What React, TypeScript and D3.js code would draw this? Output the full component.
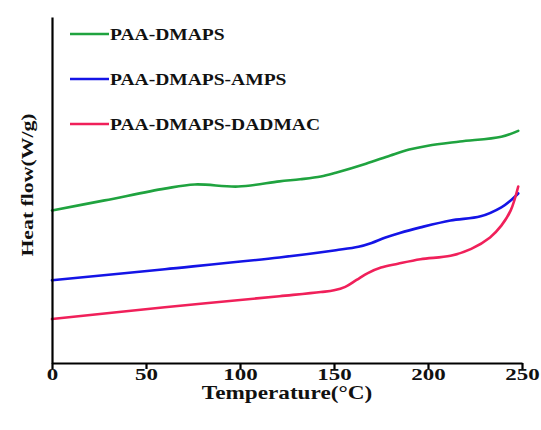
import React, { useEffect, useRef } from "react";
import * as d3 from "d3";

// series names and colours, in legend order
const seriesNames = ["PAA-DMAPS", "PAA-DMAPS-AMPS", "PAA-DMAPS-DADMAC"];
const seriesColors = ["#1fa33f", "#1414e6", "#f0205a"];

// temperatures (°C) and heat flow (arbitrary units)
const tempGreen = [0, 28, 60, 76, 99, 121, 132, 143, 151, 167, 180, 190, 200, 217, 239, 248];
const flowGreen = [4.41, 4.7, 5.04, 5.16, 5.1, 5.25, 5.31, 5.39, 5.5, 5.76, 6.0, 6.17, 6.28, 6.4, 6.54, 6.71];

const tempBlue = [0, 60, 121, 151, 163, 170, 177, 185, 196, 212, 228, 239, 244, 248];
const flowBlue = [2.39, 2.71, 3.05, 3.26, 3.36, 3.47, 3.62, 3.76, 3.92, 4.12, 4.24, 4.5, 4.7, 4.9];

const tempRed = [0, 60, 121, 143, 150, 156, 162, 168, 175, 184, 196, 212, 223, 233, 239, 244, 248];
const flowRed = [1.27, 1.61, 1.93, 2.05, 2.1, 2.2, 2.4, 2.6, 2.76, 2.87, 3.0, 3.1, 3.3, 3.63, 3.97, 4.41, 5.1];

const xTicks = [0, 50, 100, 150, 200, 250];

const W = 541;
const H = 430;
const FONT = "Liberation Serif";

export default function App() {
  const ref = useRef<SVGSVGElement>(null);

  useEffect(() => {
    const svg = d3.select(ref.current);
    svg.selectAll("*").remove();

    const x = d3.scaleLinear().domain([0, 250]).range([52, 522]);
    const y = d3.scaleLinear().domain([0, 10]).range([363, 17]);

    const series = [
      tempGreen.map((t, i) => [t, flowGreen[i]]),
      tempBlue.map((t, i) => [t, flowBlue[i]]),
      tempRed.map((t, i) => [t, flowRed[i]]),
    ];

    const line = d3
      .line<number[]>()
      .x((d) => x(d[0]))
      .y((d) => y(d[1]))
      .curve(d3.curveCatmullRom.alpha(0.5));

    // curves
    series.forEach((s, i) => {
      svg
        .append("path")
        .attr("d", line(s))
        .attr("fill", "none")
        .attr("stroke", seriesColors[i])
        .attr("stroke-width", 2.6)
        .attr("stroke-linecap", "round");
    });

    // x axis
    const gx = svg
      .append("g")
      .attr("transform", "translate(0,363)")
      .call(d3.axisBottom(x).tickValues(xTicks).tickSize(6).tickSizeOuter(0));
    gx.select(".domain").attr("stroke", "#000").attr("stroke-width", 2.2);
    gx.selectAll(".tick line").attr("stroke", "#000").attr("stroke-width", 2.2);
    gx.selectAll(".tick text")
      .attr("y", 17)
      .attr("dy", 0)
      .attr("fill", "#111")
      .attr("font-family", FONT)
      .attr("font-weight", "bold")
      .attr("font-size", 17)
      .attr("transform", "scale(1.35,1)");

    // y axis, a bare line
    const gy = svg
      .append("g")
      .attr("transform", "translate(52,0)")
      .call(d3.axisLeft(y).tickValues([]).tickSizeOuter(0));
    gy.select(".domain").attr("stroke", "#000").attr("stroke-width", 2.2);

    // axis titles
    svg
      .append("text")
      .attr("transform", "translate(287,399) scale(1.29,1)")
      .attr("text-anchor", "middle")
      .attr("font-family", FONT)
      .attr("font-weight", "bold")
      .attr("font-size", 18)
      .attr("fill", "#111")
      .text("Temperature(°C)");

    svg
      .append("text")
      .attr("transform", "translate(33,185) rotate(-90) scale(1.28,1)")
      .attr("text-anchor", "middle")
      .attr("font-family", FONT)
      .attr("font-weight", "bold")
      .attr("font-size", 17)
      .attr("fill", "#111")
      .text("Heat flow(W/g)");

    // legend
    const lg = svg.append("g");
    seriesNames.forEach((name, i) => {
      const yy = 34 + i * 45;
      lg.append("line")
        .attr("x1", 70)
        .attr("x2", 109)
        .attr("y1", yy)
        .attr("y2", yy)
        .attr("stroke", seriesColors[i])
        .attr("stroke-width", 2.6);
      lg.append("text")
        .attr("transform", `translate(110,${yy + 6}) scale(1.15,1)`)
        .attr("font-family", FONT)
        .attr("font-weight", "bold")
        .attr("font-size", 17)
        .attr("fill", "#111")
        .text(name);
    });
  }, []);

  return (
    <svg
      ref={ref}
      width={W}
      height={H}
      style={{ position: "absolute", left: 0, top: 0, background: "#fff" }}
    />
  );
}
